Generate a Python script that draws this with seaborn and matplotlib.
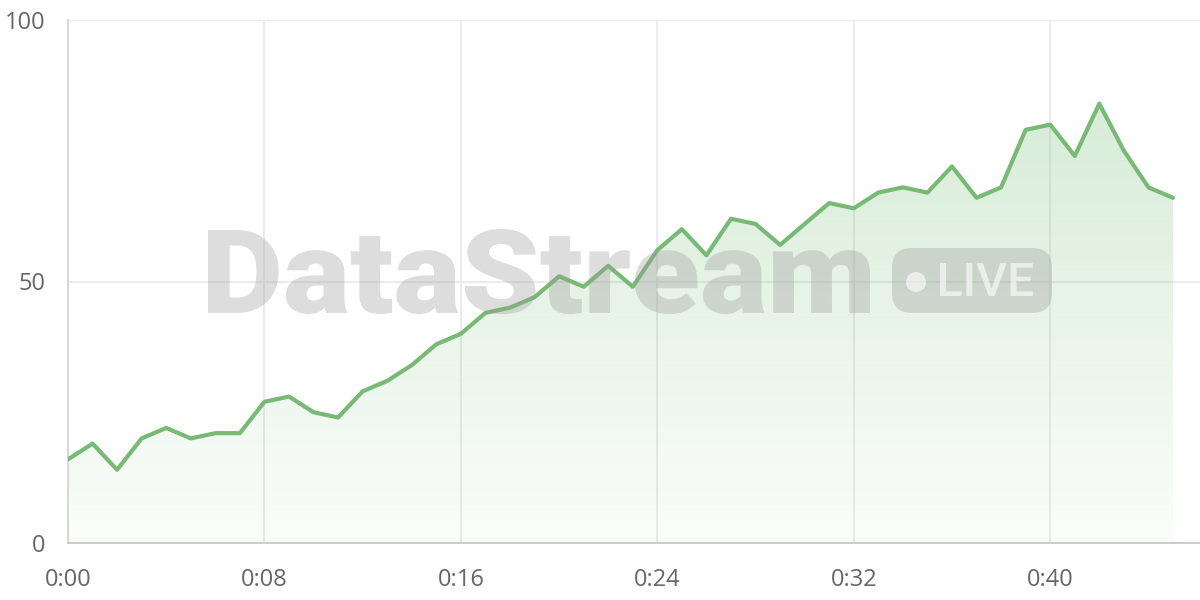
import matplotlib
matplotlib.use("Agg")
import matplotlib.pyplot as plt
import numpy as np
import pandas as pd
import seaborn as sns
from matplotlib.patches import FancyBboxPatch, Circle, PathPatch
from matplotlib.textpath import TextPath
from matplotlib.font_manager import FontProperties
from matplotlib.transforms import Affine2D

# values per minute
minutes = list(range(46))
values = [16, 19, 14, 20, 22, 20, 21, 21, 27, 28, 25, 24, 29, 31, 34, 38, 40, 44,
          45, 47, 51, 49, 53, 49, 56, 60, 55, 62, 61, 57, 61, 65, 64, 67, 68, 67,
          72, 66, 68, 79, 80, 74, 84, 75, 68, 66]
x_ticks = [0, 8, 16, 24, 32, 40]
x_labels = ["0:00", "0:08", "0:16", "0:24", "0:32", "0:40"]
y_ticks = [0, 50, 100]

df = pd.DataFrame({"minute": minutes, "value": values})

sns.set_theme(style="white")
plt.rcParams['font.family'] = ['Open Sans', 'DejaVu Sans']

W, H = 1200, 600
fig = plt.figure(figsize=(12, 6), dpi=100)
ax = fig.add_axes([68 / W, 1 - 543 / H, 1 - 68 / W, (543 - 20) / H])

line_color = "#76ba74"

# gradient fill under the line
fill = ax.fill_between(df["minute"], df["value"], 0, color="none", lw=0)
grad = np.linspace(0.03, 0.28, 256).reshape(-1, 1)
rgba = np.zeros((256, 1, 4))
rgba[..., 0] = 0.45
rgba[..., 1] = 0.73
rgba[..., 2] = 0.45
rgba[..., 3] = grad
img = ax.imshow(rgba, extent=[0, 45, 0, max(values)], origin="lower",
                aspect="auto", zorder=1)
img.set_clip_path(fill.get_paths()[0], transform=ax.transData)

sns.lineplot(data=df, x="minute", y="value", ax=ax, color=line_color,
             linewidth=3, zorder=4)

ax.set_xlim(0, 46.1)
ax.set_ylim(0, 100)
ax.set_xticks(x_ticks)
ax.set_xticklabels(x_labels)
ax.set_yticks(y_ticks)
ax.set_xlabel("")
ax.set_ylabel("")
ax.grid(True, color="#e8e8e8", linewidth=1.2, zorder=0)
ax.set_axisbelow(True)
for s in ["top", "right"]:
    ax.spines[s].set_visible(False)
ax.spines["left"].set_color("#d8d8d8")
ax.spines["left"].set_linewidth(1.5)
ax.spines["bottom"].set_color("#cccccc")
ax.spines["bottom"].set_linewidth(1.5)
ax.tick_params(axis="both", length=11, width=1.2, color="#e4e4e4",
               labelcolor="#666666", labelsize=17, direction="out")
ax.tick_params(axis="x", pad=7)
ax.tick_params(axis="y", pad=5)

# pixel (top-left origin) -> figure fraction
px = Affine2D().scale(1, -1).translate(0, H).scale(1 / W, 1 / H) + fig.transFigure


def fitted_text(s, x0, x1, top, base, family, weight, color, alpha):
    prop = FontProperties(family=family, weight=weight)
    tp = TextPath((0, 0), s, size=100, prop=prop)
    bb = tp.get_extents()
    cap = TextPath((0, 0), "D", size=100, prop=prop).get_extents().y1
    tr = (Affine2D().translate(-bb.x0, 0)
          .scale((x1 - x0) / bb.width, (base - top) / cap)
          .scale(1, -1).translate(x0, base))
    patch = PathPatch(tr.transform_path(tp), transform=px, facecolor=color,
                      edgecolor="none", alpha=alpha, zorder=3)
    fig.add_artist(patch)


# watermark
fitted_text("DataStream", 208, 870, 230, 313, "Roboto", "black", "#999999", 0.33)
badge = FancyBboxPatch((892, 248), 160, 65,
                       boxstyle="round,pad=0,rounding_size=20",
                       transform=px, facecolor="#999999", alpha=0.33,
                       edgecolor="none", zorder=3)
fig.add_artist(badge)
fig.add_artist(Circle((916, 282), 10, transform=px, facecolor="white",
                      alpha=0.6, edgecolor="none", zorder=3))
fitted_text("LIVE", 940, 1033, 263, 296, "Roboto", "medium", "white", 0.6)

fig.savefig("out.png", dpi=100)
